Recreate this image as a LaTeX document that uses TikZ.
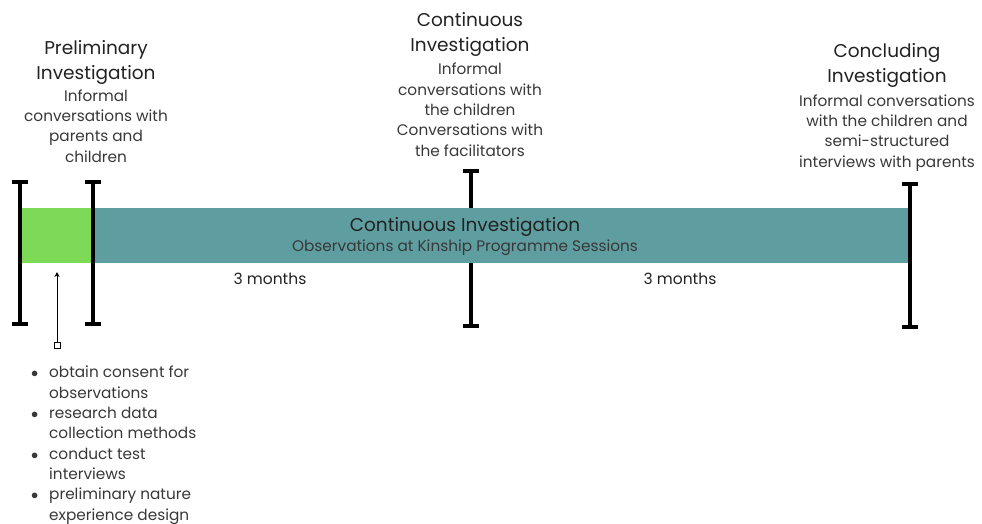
\documentclass[tikz,border=0pt]{standalone}
\usepackage{fontspec}
\setmainfont{Poppins}
\usetikzlibrary{arrows.meta}
\definecolor{teal}{HTML}{5F9EA0}
\definecolor{leaf}{HTML}{7ED957}
\definecolor{ink}{HTML}{222222}
\begin{document}
\begin{tikzpicture}[x=1pt,y=-1pt,
  head/.style={align=center,font=\fontsize{18.5}{25}\selectfont,text=ink,inner sep=0pt},
  sub/.style={align=center,font=\fontsize{15.3}{20.3}\selectfont,text=ink!90,inner sep=0pt},
  beam/.style={line width=3.8pt,draw=black,
    {Bar[width=16pt,line width=3.8pt]}-{Bar[width=16pt,line width=3.8pt]}},
  plain/.style={font=\fontsize{15.5}{20}\selectfont,text=ink,inner sep=0pt}]
\useasboundingbox (0,0) rectangle (982,524);
% timeline markers
\coordinate (a1) at (20,180); \coordinate (a2) at (20,326);
\coordinate (b1) at (93,180); \coordinate (b2) at (93,326);
\coordinate (c1) at (471,169); \coordinate (c2) at (471,328);
\coordinate (d1) at (910,182); \coordinate (d2) at (910,329);
% the mid-point marker sits behind the band
\draw[beam] (c1) -- (c2);
% bars
\fill[leaf] (20,208) rectangle (93,263);
\fill[teal] (93,208) rectangle (909,263);
\draw[beam] (a1) -- (a2);
\draw[beam] (b1) -- (b2);
\draw[beam] (d1) -- (d2);
% headings (anchored at the baseline of their last line)
\node[head,anchor=base] (h1) at (96,80) {Preliminary\\Investigation};
\node[sub,anchor=base] (s1) at (96,162) {Informal\\conversations with\\parents and\\children};
\node[head,anchor=base] (h2) at (470,52) {Continuous\\Investigation};
\node[sub,anchor=base] (s2) at (470,156) {Informal\\conversations with\\the children\\Conversations with\\the facilitators};
\node[head,anchor=base] (h3) at (887,83) {Concluding\\Investigation};
\node[sub,anchor=base] (s3) at (887,167) {Informal conversations\\with the children and\\semi-structured\\interviews with parents};
% bar text
\node[head,anchor=base] (bt) at (465,231) {Continuous Investigation};
\node[sub,anchor=base] (bs) at (465,251) {Observations at Kinship Programme Sessions};
\node[plain,anchor=base] (m1) at (270,284) {3 months};
\node[plain,anchor=base] (m2) at (680,284) {3 months};
% arrow from the task list
\node[draw=black,line width=1pt,minimum size=6pt,inner sep=0pt,fill=white] (sq) at (57,345) {};
\coordinate (tip) at (57,272);
\draw[line width=1pt,-{Stealth[length=5pt,width=5pt]}] (sq) -- (tip);
% task list
\node[sub,anchor=base west,align=left] (list) at (31,520) {%
  \makebox[18pt][l]{$\bullet$}obtain consent for\\
  \hspace*{18pt}observations\\
  \makebox[18pt][l]{$\bullet$}research data\\
  \hspace*{18pt}collection methods\\
  \makebox[18pt][l]{$\bullet$}conduct test\\
  \hspace*{18pt}interviews\\
  \makebox[18pt][l]{$\bullet$}preliminary nature\\
  \hspace*{18pt}experience design};
\end{tikzpicture}
\end{document}
